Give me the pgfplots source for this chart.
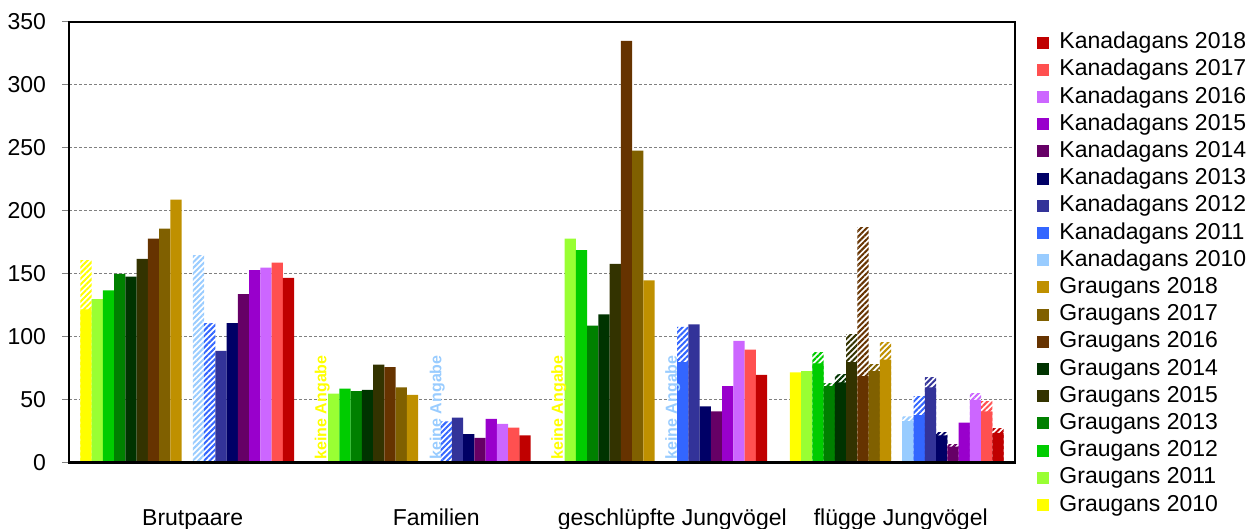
\documentclass[border=0pt]{standalone}
\usepackage{pgfplots}
\pgfplotsset{compat=1.18}
\usepackage{fontspec}
\setmainfont{Liberation Sans}
\usetikzlibrary{patterns.meta}

% Graugans
\definecolor{g10}{HTML}{FFFF00}
\definecolor{g11}{HTML}{99FF33}
\definecolor{g12}{HTML}{00CC00}
\definecolor{g13}{HTML}{008000}
\definecolor{g14}{HTML}{003300}
\definecolor{g15}{HTML}{333300}
\definecolor{g16}{HTML}{663300}
\definecolor{g17}{HTML}{806000}
\definecolor{g18}{HTML}{BF9000}
% Kanadagans
\definecolor{k10}{HTML}{99CCFF}
\definecolor{k11}{HTML}{3366FF}
\definecolor{k12}{HTML}{333399}
\definecolor{k13}{HTML}{000066}
\definecolor{k14}{HTML}{660066}
\definecolor{k15}{HTML}{9900CC}
\definecolor{k16}{HTML}{CC66FF}
\definecolor{k17}{HTML}{FF5050}
\definecolor{k18}{HTML}{C00000}

\newcommand{\bw}{0.047619}
% solid bar: shift, colour, coordinates
\newcommand{\sbar}[3]{\addplot[ybar,bar width=\bw,bar shift=#1,fill=#2,draw=none,forget plot] coordinates {#3};}
% hatched bar (uncertain part), drawn first up to the total
\newcommand{\hatchbar}[3]{\addplot[ybar,bar width=\bw,bar shift=#1,fill=white,draw=none,forget plot,
  postaction={pattern={Lines[angle=45,distance=2pt,line width=1pt]},pattern color=#2}] coordinates {#3};}
\newcommand{\leg}[2]{\addlegendimage{fill=#1,draw=none}\addlegendentry{#2}}
\newcommand{\txt}{\fontsize{11.5}{13.8}\selectfont}

\begin{document}
\begin{tikzpicture}
\begin{axis}[
    at={(0,0)}, anchor=south west,
    scale only axis,
    width=473pt, height=220.5pt,
    xmin=-0.5, xmax=3.5,
    ymin=0, ymax=350,
    ytick={0,50,...,350},
    xtick={0.023,1.053,2.051,3.017},
    xticklabels={Brutpaare,Familien,geschlüpfte Jungvögel,flügge Jungvögel},
    xtick style={draw=none},
    ytick pos=left,
    tick align=outside,
    major tick length=3.5pt,
    ytick style={gray, line width=0.5pt},
    ymajorgrids,
    grid style={dash pattern=on 1.5pt off 1pt, gray, line width=0.5pt},
    axis line style={black, line width=1pt},
    font=\txt,
    /pgf/number format/assume math mode=true,
    yticklabel style={font=\txt, xshift=-4.5pt},
    xticklabel style={font=\txt, anchor=base, yshift=-28pt},
    legend cell align=left,
    legend image code/.code={\path[#1] (0pt,-3pt) rectangle (6pt,3pt);},
    legend style={draw=none, fill=none, at={(1.0233,0.979)}, anchor=north west,
        font=\txt, inner sep=0pt, row sep=2.6pt,
        nodes={inner ysep=0pt, inner xsep=5pt, text height=8.5pt, text depth=2.5pt}},
]
% Graugans 2010 ... 2018
\hatchbar{-0.42857}{g10}{(0,161)}
\sbar{-0.42857}{g10}{(0,122) (3,72)}
\sbar{-0.38095}{g11}{(0,130) (1,55) (2,178) (3,73)}
\hatchbar{-0.33333}{g12}{(3,88)}
\sbar{-0.33333}{g12}{(0,137) (1,59) (2,169) (3,79)}
\hatchbar{-0.28571}{g13}{(3,63)}
\sbar{-0.28571}{g13}{(0,150) (1,57) (2,109) (3,61)}
\hatchbar{-0.23810}{g14}{(3,70)}
\sbar{-0.23810}{g14}{(0,148) (1,58) (2,118) (3,64)}
\hatchbar{-0.19048}{g15}{(3,102)}
\sbar{-0.19048}{g15}{(0,162) (1,78) (2,158) (3,80)}
\hatchbar{-0.14286}{g16}{(3,187)}
\sbar{-0.14286}{g16}{(0,178) (1,76) (2,335) (3,69)}
\hatchbar{-0.09524}{g17}{(3,78)}
\sbar{-0.09524}{g17}{(0,186) (1,60) (2,248) (3,73)}
\hatchbar{-0.04762}{g18}{(3,96)}
\sbar{-0.04762}{g18}{(0,209) (1,54) (2,145) (3,82)}
% Kanadagans 2010 ... 2018
\hatchbar{0.04762}{k10}{(0,165) (3,37)}
\sbar{0.04762}{k10}{(3,33)}
\hatchbar{0.09524}{k11}{(0,111) (1,33) (2,108) (3,53)}
\sbar{0.09524}{k11}{(2,80) (3,38)}
\hatchbar{0.14286}{k12}{(3,68)}
\sbar{0.14286}{k12}{(0,89) (1,36) (2,110) (3,60)}
\hatchbar{0.19048}{k13}{(3,24)}
\sbar{0.19048}{k13}{(0,111) (1,23) (2,45) (3,22)}
\hatchbar{0.23810}{k14}{(3,15)}
\sbar{0.23810}{k14}{(0,134) (1,20) (2,41) (3,13)}
\sbar{0.28571}{k15}{(0,153) (1,35) (2,61) (3,32)}
\hatchbar{0.33333}{k16}{(3,55)}
\sbar{0.33333}{k16}{(0,155) (1,31) (2,97) (3,50)}
\hatchbar{0.38095}{k17}{(3,49)}
\sbar{0.38095}{k17}{(0,159) (1,28) (2,90) (3,41)}
\hatchbar{0.42857}{k18}{(3,27)}
\sbar{0.42857}{k18}{(0,147) (1,22) (2,70) (3,24)}

% keine Angabe
\node[rotate=90, anchor=west, text=g10, font=\bfseries\fontsize{8}{9.6}\selectfont, inner sep=0pt] at (axis cs:0.57143,2.5) {keine Angabe};
\node[rotate=90, anchor=west, text=g10, font=\bfseries\fontsize{8}{9.6}\selectfont, inner sep=0pt] at (axis cs:1.57143,2.5) {keine Angabe};
\node[rotate=90, anchor=west, text=k10, font=\bfseries\fontsize{8}{9.6}\selectfont, inner sep=0pt] at (axis cs:1.05762,2.5) {keine Angabe};
\node[rotate=90, anchor=west, text=k10, font=\bfseries\fontsize{8}{9.6}\selectfont, inner sep=0pt] at (axis cs:2.05262,2.5) {keine Angabe};

\draw[black, line width=1.5pt] (rel axis cs:0,1) -- (rel axis cs:0,0) -- (rel axis cs:1,0);

\leg{k18}{Kanadagans 2018}
\leg{k17}{Kanadagans 2017}
\leg{k16}{Kanadagans 2016}
\leg{k15}{Kanadagans 2015}
\leg{k14}{Kanadagans 2014}
\leg{k13}{Kanadagans 2013}
\leg{k12}{Kanadagans 2012}
\leg{k11}{Kanadagans 2011}
\leg{k10}{Kanadagans 2010}
\leg{g18}{Graugans 2018}
\leg{g17}{Graugans 2017}
\leg{g16}{Graugans 2016}
\leg{g14}{Graugans 2014}
\leg{g15}{Graugans 2015}
\leg{g13}{Graugans 2013}
\leg{g12}{Graugans 2012}
\leg{g11}{Graugans 2011}
\leg{g10}{Graugans 2010}
\end{axis}
\pgfresetboundingbox
\path[use as bounding box] (-34.5pt,-33pt) rectangle (589.5pt,231.5pt);
\end{tikzpicture}
\end{document}
